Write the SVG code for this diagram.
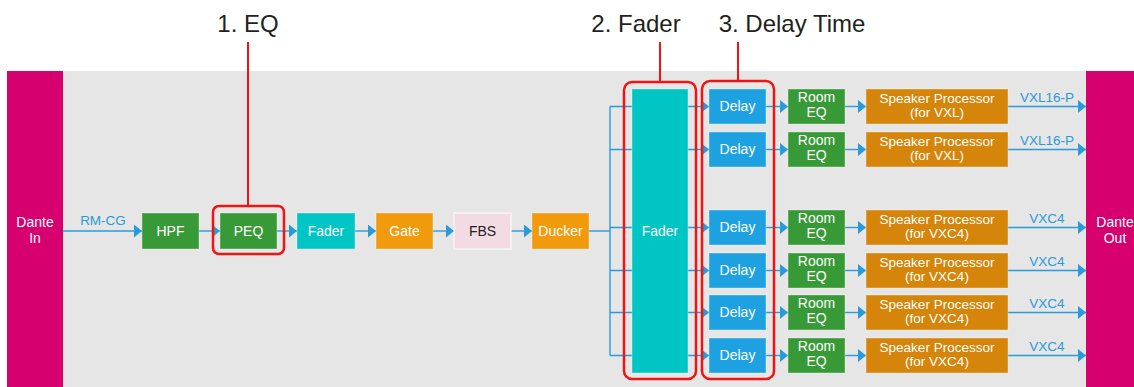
<svg xmlns="http://www.w3.org/2000/svg" width="1134" height="387" viewBox="0 0 1134 387">
  <style>
    .lbl { font-family: "Liberation Sans", Arial, sans-serif; font-size: 14px; fill: #ffffff; text-anchor: middle; }
    .sm { font-size: 13.5px; }
    .dark { fill: #222222; }
    .sig { font-family: "Liberation Sans", Arial, sans-serif; font-size: 13.5px; fill: #2b9ad8; text-anchor: middle; }
    .title { font-family: "Liberation Sans", Arial, sans-serif; font-size: 24px; fill: #231f20; text-anchor: middle; }
    .box { stroke: rgba(255,255,255,0.35); stroke-width: 1; }
    .green { fill: #379a37; }
    .teal { fill: #00c5c5; }
    .orange { fill: #f09a0c; }
    .spk { fill: #d4850a; }
    .blue { fill: #1ea1e0; }
    .pink { fill: #d7006f; }
    .wire { stroke: #2b9ad8; stroke-width: 1.4; fill: none; }
    .hl { stroke: #f01414; stroke-width: 2.5; fill: none; }
  </style>
  <defs>
    <marker id="arrow" markerUnits="userSpaceOnUse" markerWidth="8" markerHeight="13" refX="8" refY="6.5" orient="auto">
      <path d="M0,0 L8,6.5 L0,13 z" fill="#2b9ad8"/>
    </marker>
  </defs>

  <!-- processing area -->
  <rect x="7" y="71" width="1127" height="316" fill="#e6e6e6"/>

  <!-- connectors -->
  <g id="connectors">
    <line class="wire" x1="63" y1="231" x2="142" y2="231" marker-end="url(#arrow)"/>
    <line class="wire" x1="199" y1="231" x2="220" y2="231" marker-end="url(#arrow)"/>
    <line class="wire" x1="277" y1="231" x2="297" y2="231" marker-end="url(#arrow)"/>
    <line class="wire" x1="355" y1="231" x2="376" y2="231" marker-end="url(#arrow)"/>
    <line class="wire" x1="433" y1="231" x2="454" y2="231" marker-end="url(#arrow)"/>
    <line class="wire" x1="511" y1="231" x2="532" y2="231" marker-end="url(#arrow)"/>
    <line class="wire" x1="589" y1="231" x2="610" y2="231"/>
    <line class="wire" x1="610" y1="106.5" x2="610" y2="355.5"/>
    <!-- branches to delays -->
    <line class="wire" x1="610" y1="106.5" x2="709" y2="106.5" marker-end="url(#arrow)"/>
    <line class="wire" x1="610" y1="149.5" x2="709" y2="149.5" marker-end="url(#arrow)"/>
    <line class="wire" x1="610" y1="227.5" x2="709" y2="227.5" marker-end="url(#arrow)"/>
    <line class="wire" x1="610" y1="270.5" x2="709" y2="270.5" marker-end="url(#arrow)"/>
    <line class="wire" x1="610" y1="312.5" x2="709" y2="312.5" marker-end="url(#arrow)"/>
    <line class="wire" x1="610" y1="355.5" x2="709" y2="355.5" marker-end="url(#arrow)"/>
    <!-- delay to room EQ -->
    <line class="wire" x1="766" y1="106.5" x2="788" y2="106.5" marker-end="url(#arrow)"/>
    <line class="wire" x1="766" y1="149.5" x2="788" y2="149.5" marker-end="url(#arrow)"/>
    <line class="wire" x1="766" y1="227.5" x2="788" y2="227.5" marker-end="url(#arrow)"/>
    <line class="wire" x1="766" y1="270.5" x2="788" y2="270.5" marker-end="url(#arrow)"/>
    <line class="wire" x1="766" y1="312.5" x2="788" y2="312.5" marker-end="url(#arrow)"/>
    <line class="wire" x1="766" y1="355.5" x2="788" y2="355.5" marker-end="url(#arrow)"/>
    <!-- room EQ to speaker processor -->
    <line class="wire" x1="845" y1="106.5" x2="866" y2="106.5" marker-end="url(#arrow)"/>
    <line class="wire" x1="845" y1="149.5" x2="866" y2="149.5" marker-end="url(#arrow)"/>
    <line class="wire" x1="845" y1="227.5" x2="866" y2="227.5" marker-end="url(#arrow)"/>
    <line class="wire" x1="845" y1="270.5" x2="866" y2="270.5" marker-end="url(#arrow)"/>
    <line class="wire" x1="845" y1="312.5" x2="866" y2="312.5" marker-end="url(#arrow)"/>
    <line class="wire" x1="845" y1="355.5" x2="866" y2="355.5" marker-end="url(#arrow)"/>
    <!-- outputs -->
    <line class="wire" x1="1008" y1="106.5" x2="1086" y2="106.5" marker-end="url(#arrow)"/>
    <line class="wire" x1="1008" y1="149.5" x2="1086" y2="149.5" marker-end="url(#arrow)"/>
    <line class="wire" x1="1008" y1="227.5" x2="1086" y2="227.5" marker-end="url(#arrow)"/>
    <line class="wire" x1="1008" y1="270.5" x2="1086" y2="270.5" marker-end="url(#arrow)"/>
    <line class="wire" x1="1008" y1="312.5" x2="1086" y2="312.5" marker-end="url(#arrow)"/>
    <line class="wire" x1="1008" y1="355.5" x2="1086" y2="355.5" marker-end="url(#arrow)"/>
    <text class="sig" x="103" y="225">RM-CG</text>
    <text class="sig" x="1047" y="102">VXL16-P</text>
    <text class="sig" x="1047" y="145">VXL16-P</text>
    <text class="sig" x="1047" y="223">VXC4</text>
    <text class="sig" x="1047" y="266">VXC4</text>
    <text class="sig" x="1047" y="308">VXC4</text>
    <text class="sig" x="1047" y="351">VXC4</text>
  </g>

  <!-- Dante endpoints -->
  <g id="dante-in">
    <rect class="pink" x="7" y="71" width="56" height="316"/>
    <text class="lbl" x="35" y="227">Dante</text>
    <text class="lbl" x="35" y="243">In</text>
  </g>
  <g id="dante-out">
    <rect class="pink" x="1086" y="71" width="60" height="316"/>
    <text class="lbl" x="1115" y="227">Dante</text>
    <text class="lbl" x="1115" y="243">Out</text>
  </g>

  <!-- main chain -->
  <g id="hpf"><rect class="box green" x="142" y="213" width="57" height="36"/><text class="lbl" x="170.5" y="236">HPF</text></g>
  <g id="peq"><rect class="box green" x="220" y="213" width="57" height="36"/><text class="lbl" x="248.5" y="236">PEQ</text></g>
  <g id="fader-in"><rect class="box teal" x="297" y="213" width="58" height="36"/><text class="lbl" x="326" y="236">Fader</text></g>
  <g id="gate"><rect class="box orange" x="376" y="213" width="57" height="36"/><text class="lbl" x="404.5" y="236">Gate</text></g>
  <g id="fbs"><rect x="454" y="213" width="57" height="36" fill="#f2dbe2" stroke="#ffffff" stroke-width="1"/><text class="lbl dark" x="482.5" y="236">FBS</text></g>
  <g id="ducker"><rect class="box orange" x="532" y="213" width="57" height="36"/><text class="lbl" x="560.5" y="236">Ducker</text></g>

  <!-- output fader -->
  <g id="fader-out">
    <rect class="box teal" x="632" y="89" width="56" height="284"/>
    <text class="lbl" x="660" y="236">Fader</text>
  </g>

  <!-- delays -->
  <g id="delay-1"><rect class="box blue" x="709" y="89" width="57" height="35"/><text class="lbl" x="737.5" y="111">Delay</text></g>
  <g id="delay-2"><rect class="box blue" x="709" y="132" width="57" height="35"/><text class="lbl" x="737.5" y="154">Delay</text></g>
  <g id="delay-3"><rect class="box blue" x="709" y="210" width="57" height="35"/><text class="lbl" x="737.5" y="232">Delay</text></g>
  <g id="delay-4"><rect class="box blue" x="709" y="253" width="57" height="35"/><text class="lbl" x="737.5" y="275">Delay</text></g>
  <g id="delay-5"><rect class="box blue" x="709" y="295" width="57" height="35"/><text class="lbl" x="737.5" y="317">Delay</text></g>
  <g id="delay-6"><rect class="box blue" x="709" y="338" width="57" height="35"/><text class="lbl" x="737.5" y="360">Delay</text></g>

  <!-- room EQ -->
  <g id="room-eq-1"><rect class="box green" x="788" y="89" width="57" height="35"/><text class="lbl" x="816.5" y="102">Room</text><text class="lbl" x="816.5" y="117">EQ</text></g>
  <g id="room-eq-2"><rect class="box green" x="788" y="132" width="57" height="35"/><text class="lbl" x="816.5" y="145">Room</text><text class="lbl" x="816.5" y="160">EQ</text></g>
  <g id="room-eq-3"><rect class="box green" x="788" y="210" width="57" height="35"/><text class="lbl" x="816.5" y="223">Room</text><text class="lbl" x="816.5" y="238">EQ</text></g>
  <g id="room-eq-4"><rect class="box green" x="788" y="253" width="57" height="35"/><text class="lbl" x="816.5" y="266">Room</text><text class="lbl" x="816.5" y="281">EQ</text></g>
  <g id="room-eq-5"><rect class="box green" x="788" y="295" width="57" height="35"/><text class="lbl" x="816.5" y="308">Room</text><text class="lbl" x="816.5" y="323">EQ</text></g>
  <g id="room-eq-6"><rect class="box green" x="788" y="338" width="57" height="35"/><text class="lbl" x="816.5" y="351">Room</text><text class="lbl" x="816.5" y="366">EQ</text></g>

  <!-- speaker processors -->
  <g id="spk-1"><rect class="box spk" x="866" y="89" width="142" height="35"/><text class="lbl sm" x="937" y="103">Speaker Processor</text><text class="lbl sm" x="937" y="117">(for VXL)</text></g>
  <g id="spk-2"><rect class="box spk" x="866" y="132" width="142" height="35"/><text class="lbl sm" x="937" y="146">Speaker Processor</text><text class="lbl sm" x="937" y="160">(for VXL)</text></g>
  <g id="spk-3"><rect class="box spk" x="866" y="210" width="142" height="35"/><text class="lbl sm" x="937" y="224">Speaker Processor</text><text class="lbl sm" x="937" y="238">(for VXC4)</text></g>
  <g id="spk-4"><rect class="box spk" x="866" y="253" width="142" height="35"/><text class="lbl sm" x="937" y="267">Speaker Processor</text><text class="lbl sm" x="937" y="281">(for VXC4)</text></g>
  <g id="spk-5"><rect class="box spk" x="866" y="295" width="142" height="35"/><text class="lbl sm" x="937" y="309">Speaker Processor</text><text class="lbl sm" x="937" y="323">(for VXC4)</text></g>
  <g id="spk-6"><rect class="box spk" x="866" y="338" width="142" height="35"/><text class="lbl sm" x="937" y="352">Speaker Processor</text><text class="lbl sm" x="937" y="366">(for VXC4)</text></g>

  <!-- callouts -->
  <g id="callout-eq">
    <text class="title" x="248" y="32">1. EQ</text>
    <line x1="248" y1="42" x2="248" y2="206" stroke="#f01414" stroke-width="2"/>
    <rect class="hl" x="213" y="206" width="71" height="48" rx="6"/>
  </g>
  <g id="callout-fader">
    <text class="title" x="636" y="32">2. Fader</text>
    <line x1="660" y1="42" x2="660" y2="82" stroke="#f01414" stroke-width="2"/>
    <rect class="hl" x="624" y="82" width="72" height="297" rx="8"/>
  </g>
  <g id="callout-delay">
    <text class="title" x="792" y="32">3. Delay Time</text>
    <line x1="738" y1="42" x2="738" y2="81" stroke="#f01414" stroke-width="2"/>
    <rect class="hl" x="702" y="81" width="72" height="298" rx="8"/>
  </g>
</svg>
